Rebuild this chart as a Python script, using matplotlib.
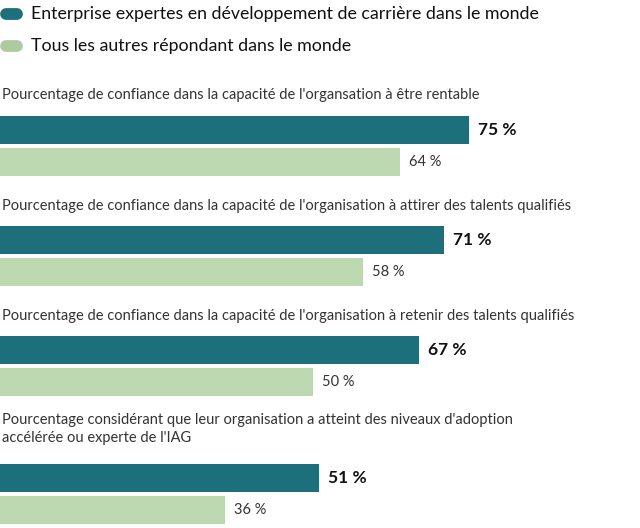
import matplotlib.pyplot as plt

# data
titles = [
    "Pourcentage de confiance dans la capacité de l'organsation à être rentable",
    "Pourcentage de confiance dans la capacité de l'organisation à attirer des talents qualifiés",
    "Pourcentage de confiance dans la capacité de l'organisation à retenir des talents qualifiés",
    "Pourcentage considérant que leur organisation a atteint des niveaux d'adoption\naccélérée ou experte de l'IAG",
]
experts = [75, 71, 67, 51]
others = [64, 58, 50, 36]
series_names = [
    "Enterprise expertes en développement de carrière dans le monde",
    "Tous les autres répondant dans le monde",
]

dark = "#1c6f7b"
light = "#bdd9b2"

# layout (pixel rows of the 640x528 canvas)
title_y = [95, 206, 316, 429]
dark_y = [130, 240, 350, 478]
light_y = [162, 272, 382, 510]
bar_h = 28
px_per_pct = 6.25

plt.rcParams['font.family'] = ['Lato', 'DejaVu Sans']

fig = plt.figure(figsize=(6.4, 5.28), dpi=100)
ax = fig.add_axes([0, 0, 1, 1])
ax.set_xlim(0, 640 / px_per_pct)
ax.set_ylim(528, 0)
ax.axis('off')

ax.barh(dark_y, experts, height=bar_h, color=dark, left=0)
ax.barh(light_y, others, height=bar_h, color=light, left=0)

for y, v in zip(dark_y, experts):
    ax.text(v + 1.5, y, f"{v} %", va='center', ha='left', fontsize=12.5,
            fontweight='bold', color='#111111')
for y, v in zip(light_y, others):
    ax.text(v + 1.5, y, f"{v} %", va='center', ha='left', fontsize=10.5,
            color='#333333')

for y, t in zip(title_y, titles):
    ax.text(0.3, y, t, va='center', ha='left', fontsize=10.5, color='#333333',
            linespacing=1.3)

# legend drawn as rounded pills with text
for y, name, c in zip([14, 46], series_names, ["#1c6f7b", "#aecb9f"]):
    ax.plot([0.9, 2.7], [y, y], color=c, lw=8.5, solid_capstyle='round')
    ax.text(5.0, y, name, va='center', ha='left', fontsize=12.8, color='#111111')

fig.savefig('out.png', dpi=100)
